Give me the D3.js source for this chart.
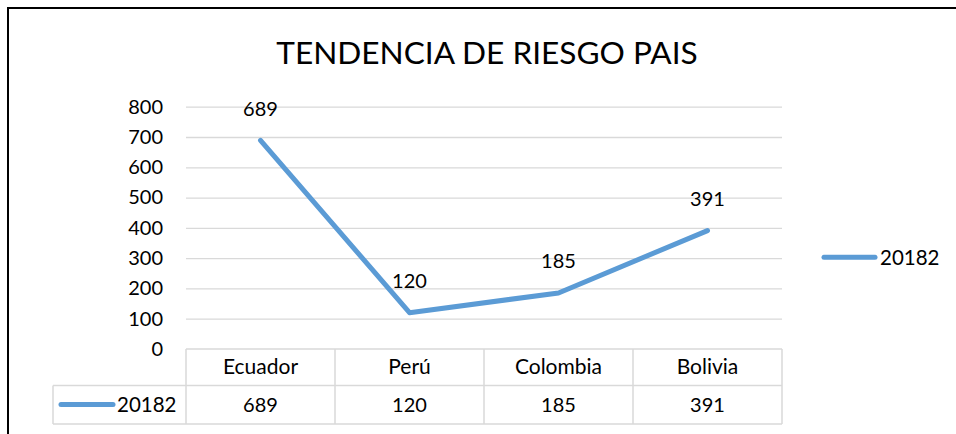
<!DOCTYPE html>
<html>
<head>
<meta charset="utf-8">
<script src="https://cdn.jsdelivr.net/npm/d3@7"></script>
<style>
  body { margin: 0; background: #fff; }
  svg text { font-family: Lato, "Open Sans", sans-serif; fill: #000; }
</style>
</head>
<body>
<div id="chart"></div>
<script>
const categories = ["Ecuador", "Perú", "Colombia", "Bolivia"];
const seriesName = "20182";
const values = [689, 120, 185, 391];
const yTicks = [0, 100, 200, 300, 400, 500, 600, 700, 800];
const title = "TENDENCIA DE RIESGO PAIS";

const width = 956, height = 434;
const plot = { left: 186, right: 782, top: 106.7, bottom: 349 };
const rowH = 36.5, row2H = 38.5, legendCellLeft = 53;

const svg = d3.select("#chart").append("svg")
    .attr("width", width)
    .attr("height", height);

// outer frame (top and left edges visible)
svg.append("path")
    .attr("d", `M8,${height} L8,8 L${width},8`)
    .attr("fill", "none")
    .attr("stroke", "#000")
    .attr("stroke-width", 2);

svg.append("text")
    .attr("x", 487)
    .attr("y", 63.5)
    .attr("text-anchor", "middle")
    .attr("font-size", 31.6)
    .text(title);

const x = d3.scaleBand()
    .domain(categories)
    .range([plot.left, plot.right]);

const y = d3.scaleLinear()
    .domain([0, 800])
    .range([plot.bottom, plot.top]);

// gridlines + y labels via axis
const yAxis = d3.axisLeft(y)
    .tickValues(yTicks)
    .tickSize(-(plot.right - plot.left))
    .tickPadding(23);

const gy = svg.append("g")
    .attr("transform", `translate(${plot.left},0)`)
    .call(yAxis);
gy.select(".domain").remove();
gy.selectAll(".tick line")
    .attr("stroke", "#d9d9d9")
    .attr("stroke-width", 1.3)
    .filter(d => d === 0).remove();
gy.selectAll(".tick text")
    .attr("font-size", 20)
    .attr("fill", "#000")
    .attr("font-family", "Lato, sans-serif");

// data table
const tbl = svg.append("g").attr("fill", "none").attr("stroke", "#d9d9d9").attr("stroke-width", 1.5);
const t0 = plot.bottom, t1 = plot.bottom + rowH, t2 = t1 + row2H;
tbl.append("path").attr("d", `M${plot.left},${t0} H${plot.right}`);
tbl.append("path").attr("d", `M${legendCellLeft},${t1} H${plot.right}`);
tbl.append("path").attr("d", `M${legendCellLeft},${t2} H${plot.right}`);
tbl.append("path").attr("d", `M${legendCellLeft},${t1} V${t2}`);
tbl.selectAll(".col")
    .data(categories.map(c => x(c)).concat([plot.right]))
    .join("path")
    .attr("d", d => `M${d},${t0} V${t2}`);

svg.selectAll(".cat")
    .data(categories)
    .join("text")
    .attr("x", d => x(d) + x.bandwidth() / 2)
    .attr("y", t0 + 25)
    .attr("text-anchor", "middle")
    .attr("font-size", 21)
    .text(d => d);

svg.selectAll(".cell")
    .data(values)
    .join("text")
    .attr("x", (d, i) => x(categories[i]) + x.bandwidth() / 2)
    .attr("y", t1 + 26)
    .attr("text-anchor", "middle")
    .attr("font-size", 20)
    .text(d => d);

// legend key in table
svg.append("line")
    .attr("x1", 61).attr("x2", 113)
    .attr("y1", t1 + 19).attr("y2", t1 + 19)
    .attr("stroke", "#5b9bd5").attr("stroke-width", 5).attr("stroke-linecap", "round");
svg.append("text")
    .attr("x", 117).attr("y", t1 + 26)
    .attr("font-size", 20.5)
    .text(seriesName);

// line series
const line = d3.line()
    .x((d, i) => x(categories[i]) + x.bandwidth() / 2)
    .y(d => y(d));

svg.append("path")
    .datum(values)
    .attr("fill", "none")
    .attr("stroke", "#5b9bd5")
    .attr("stroke-width", 5)
    .attr("stroke-linecap", "round")
    .attr("stroke-linejoin", "round")
    .attr("d", line);

svg.selectAll(".lbl")
    .data(values)
    .join("text")
    .attr("x", (d, i) => x(categories[i]) + x.bandwidth() / 2)
    .attr("y", d => y(d) - 24.5)
    .attr("text-anchor", "middle")
    .attr("font-size", 20)
    .text(d => d);

// right legend
svg.append("line")
    .attr("x1", 824).attr("x2", 875)
    .attr("y1", 257.3).attr("y2", 257.3)
    .attr("stroke", "#5b9bd5").attr("stroke-width", 5).attr("stroke-linecap", "round");
svg.append("text")
    .attr("x", 880).attr("y", 264.5)
    .attr("font-size", 20.5)
    .text(seriesName);
</script>
</body>
</html>
